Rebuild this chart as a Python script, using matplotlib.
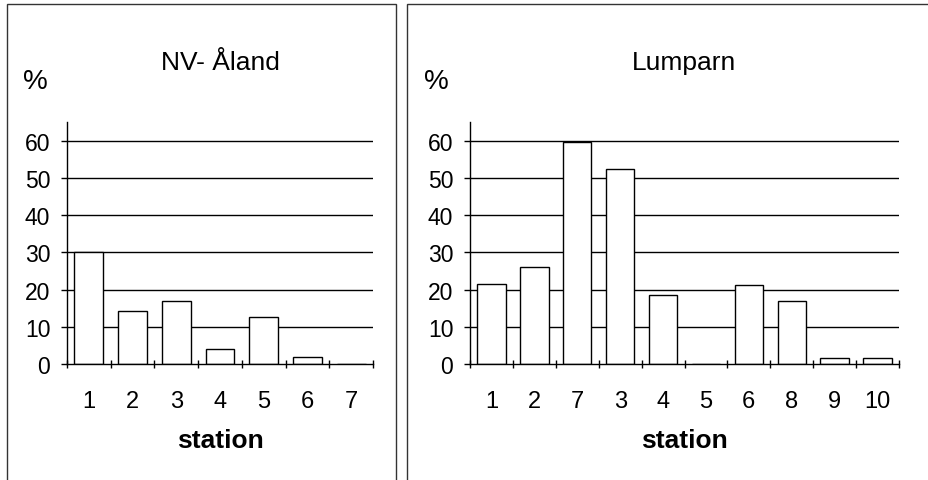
import numpy as np
import matplotlib
matplotlib.use("Agg")
import matplotlib.pyplot as plt
from matplotlib.patches import Rectangle

plt.rcParams['font.family'] = ['Liberation Sans', 'DejaVu Sans']

W, H = 929, 481

left_title = 'NV- Åland'
left_stations = ['1', '2', '3', '4', '5', '6', '7']
left_values = [30.0, 14.3, 17.0, 4.0, 12.5, 2.0, 0.0]

right_title = 'Lumparn'
right_stations = ['1', '2', '7', '3', '4', '5', '6', '8', '9', '10']
right_values = [21.5, 26.1, 59.6, 52.4, 18.4, 0.0, 21.2, 16.9, 1.7, 1.5]

yticks = [0, 10, 20, 30, 40, 50, 60]

fig = plt.figure(figsize=(W / 100, H / 100), dpi=100)
fig.patch.set_facecolor('white')

# panel frames (pixel coords, y measured from top)
def frame(x0, x1, y0, y1):
    r = Rectangle((x0 / W, 1 - y1 / H), (x1 - x0) / W, (y1 - y0) / H,
                  transform=fig.transFigure, fill=False, edgecolor='#333333',
                  lw=1.0, clip_on=False)
    fig.add_artist(r)

frame(7, 396, 5, 490)
frame(407, 940, 5, 490)


def panel(px0, px1, stations, values, title, pct_x):
    ax = fig.add_axes([px0 / W, (H - 365) / H, (px1 - px0) / W, 242 / H])
    n = len(stations)
    x = np.arange(n)
    ax.set_xlim(-0.5, n - 0.5)
    ax.set_ylim(0, 65)
    for y in yticks[1:]:
        ax.axhline(y, color='black', lw=1.0, zorder=1)
    ax.bar(x, values, width=0.66, color='white', edgecolor='black', lw=1.0, zorder=2)
    for s in ['top', 'right']:
        ax.spines[s].set_visible(False)
    ax.spines['left'].set_linewidth(1.0)
    ax.spines['bottom'].set_linewidth(1.0)
    ax.spines['bottom'].set_zorder(3)
    ax.set_yticks(yticks)
    ax.set_yticklabels([str(v) for v in yticks], fontsize=16.5)
    ax.tick_params(axis='y', direction='out', length=4, width=1, pad=8)
    ax.set_xticks(x)
    ax.set_xticklabels(stations, fontsize=17)
    ax.tick_params(axis='x', which='major', length=0, pad=19)
    ax.set_xticks(np.arange(n + 1) - 0.5, minor=True)
    ax.tick_params(axis='x', which='minor', direction='inout', length=6, width=1)
    cx = (px0 + px1) / 2
    fig.text(cx / W, 1 - 63 / H, title, ha='center', va='center', fontsize=19)
    fig.text(pct_x / W, 1 - 82 / H, '%', ha='center', va='center', fontsize=20)
    fig.text(cx / W, 1 - 441 / H, 'station', ha='center', va='center',
             fontsize=19, fontweight='bold')
    return ax


panel(67, 373, left_stations, left_values, left_title, 35)
panel(470, 899, right_stations, right_values, right_title, 436)

fig.savefig('out.png', dpi=100)
